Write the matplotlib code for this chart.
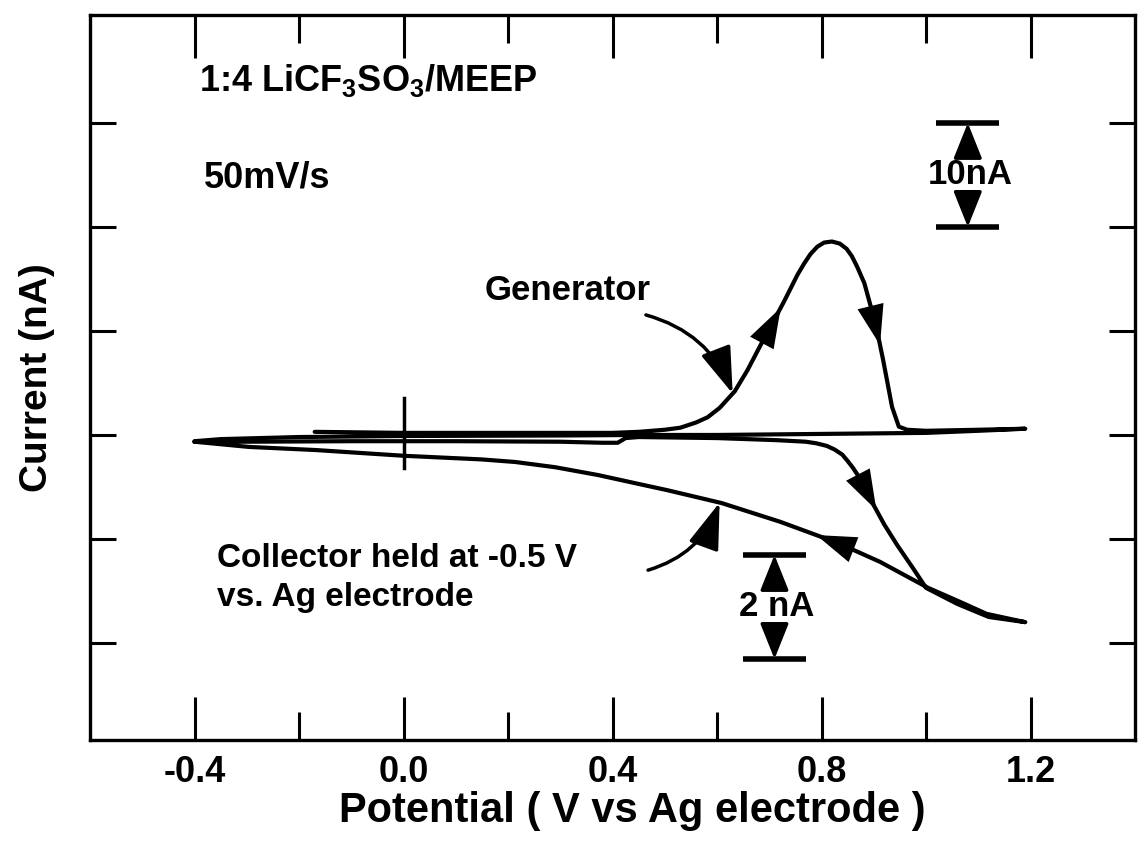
import numpy as np
import matplotlib.pyplot as plt

# ==========================================
# Data
# ==========================================
# generator CV: forward sweep from -0.17 V to 1.19 V, then back to -0.40 V
POT_GEN = [-0.17, 0.0, 0.2, 0.4, 0.45, 0.50, 0.53, 0.56, 0.582, 0.605,
           0.634, 0.658, 0.683, 0.71, 0.729, 0.74, 0.754, 0.767, 0.779, 0.792,
           0.805, 0.82, 0.835, 0.848, 0.858, 0.868, 0.882, 0.894, 0.906, 0.918,
           0.935, 0.948, 0.964, 1.0, 1.1, 1.19,
           1.1, 1.0, 0.8, 0.6, 0.45, 0.3, 0.0, -0.2, -0.35, -0.40]
CUR_GEN = [0.3, 0.2, 0.2, 0.2, 0.3, 0.5, 0.7, 1.2, 1.7, 2.6,
           4.2, 6.2, 8.6, 11.1, 12.9, 14.0, 15.4, 16.5, 17.4, 18.1,
           18.5, 18.6, 18.4, 17.9, 17.2, 16.2, 14.6, 12.4, 10.1, 7.2,
           2.7, 0.8, 0.5, 0.4, 0.5, 0.6,
           0.4, 0.2, 0.1, 0.0, 0.0, -0.05, -0.1, -0.2, -0.4, -0.6]   # nA

# collector current (collector held at -0.5 V), loop starting at -0.40 V
POT_COL = [-0.40, -0.3, -0.1, 0.1, 0.3, 0.38, 0.41, 0.425, 0.45, 0.6,
           0.714, 0.77, 0.79, 0.81, 0.825, 0.84, 0.85, 0.86, 0.87, 0.88,
           0.895, 0.92, 0.945, 0.975, 1.0, 1.06, 1.12, 1.19,
           1.116, 1.063, 1.004, 0.912, 0.832, 0.721, 0.609, 0.504, 0.44, 0.372,
           0.29, 0.214, 0.149, 0.0, -0.168, -0.296, -0.40]
CUR_COL = [-0.13, -0.13, -0.12, -0.12, -0.13, -0.15, -0.15, -0.06, -0.04, -0.06,
           -0.10, -0.13, -0.16, -0.21, -0.28, -0.38, -0.50, -0.63, -0.78, -0.96,
           -1.26, -1.72, -2.12, -2.56, -2.94, -3.25, -3.50, -3.60,
           -3.44, -3.20, -2.94, -2.44, -2.08, -1.67, -1.31, -1.06, -0.92, -0.77,
           -0.62, -0.52, -0.47, -0.40, -0.29, -0.23, -0.13]   # nA

GEN_NA_PER_DIV = 10.0   # scale bar "10nA"
COL_NA_PER_DIV = 2.0    # scale bar "2 nA"

X_MAJOR = [-0.4, 0.0, 0.4, 0.8, 1.2]
X_MAJOR_LABELS = ['-0.4', '0.0', '0.4', '0.8', '1.2']
X_MINOR = [-0.2, 0.2, 0.6, 1.0]
Y_TICKS = [-2, -1, 0, 1, 2, 3]          # in divisions

# ==========================================
# Style
# ==========================================
plt.rcParams['font.family'] = ['Liberation Sans', 'DejaVu Sans']
plt.rcParams['font.weight'] = 'bold'
plt.rcParams['axes.labelweight'] = 'bold'
plt.rcParams['mathtext.fontset'] = 'custom'
plt.rcParams['mathtext.rm'] = 'Liberation Sans:bold'
plt.rcParams['mathtext.default'] = 'rm'

LW = 3.0
HEAD = '-|>,head_length=1.2,head_width=0.4'

fig = plt.figure(figsize=(11.4, 8.44), dpi=100)
ax = fig.add_axes([90 / 1140, 104 / 844, 1045 / 1140, 725 / 844])

gen_x = np.array(POT_GEN)
gen_y = np.array(CUR_GEN) / GEN_NA_PER_DIV
col_x = np.array(POT_COL)
col_y = np.array(CUR_COL) / COL_NA_PER_DIV

ax.plot(gen_x, gen_y, color='k', lw=LW, solid_capstyle='round', solid_joinstyle='round')
ax.plot(col_x, col_y, color='k', lw=LW, solid_capstyle='round', solid_joinstyle='round')

# small cross marking the origin
ax.plot([0, 0], [-0.32, 0.36], color='k', lw=2.5)

# split each loop into its sweep branches
g_turn = int(np.argmax(gen_x))
c_turn = int(np.argmax(col_x))
g_fx, g_fy = gen_x[:g_turn + 1], gen_y[:g_turn + 1]
c_fx, c_fy = col_x[:c_turn + 1], col_y[:c_turn + 1]
c_bx, c_by = col_x[c_turn:], col_y[c_turn:]
rise = (g_fx > 0.55) & (g_fx <= 0.82)
fall = (g_fx >= 0.82) & (g_fx < 1.0)
c_fwd = (c_fx > 0.45)


def on_curve(xs, ys, x):
    order = np.argsort(xs)
    return float(np.interp(x, xs[order], ys[order]))


def curve_arrow(xs, ys, x_tip, step):
    """Filled arrowhead sitting on a branch; step>0 means travel toward +x."""
    ax.annotate('', xy=(x_tip, on_curve(xs, ys, x_tip)),
                xytext=(x_tip - step, on_curve(xs, ys, x_tip - step)),
                arrowprops=dict(arrowstyle=HEAD, mutation_scale=24, color='k', lw=0,
                                shrinkA=0, shrinkB=0))


curve_arrow(g_fx[rise], g_fy[rise], 0.722, 0.02)
curve_arrow(g_fx[fall], g_fy[fall], 0.912, 0.02)
curve_arrow(c_fx[c_fwd], c_fy[c_fwd], 0.905, 0.025)
curve_arrow(c_bx, c_by, 0.79, -0.06)

# labels
ax.text(-0.391, 3.41, '1:4 LiCF$_3$SO$_3$/MEEP', fontsize=26, ha='left', va='center')
ax.text(-0.382, 2.47, '50mV/s', fontsize=26, ha='left', va='center')
ax.text(0.315, 1.39, 'Generator', fontsize=25, ha='center', va='center')
ax.text(-0.357, -1.375, 'Collector held at -0.5 V\nvs. Ag electrode', fontsize=24,
        ha='left', va='center', linespacing=1.3)

ax.annotate('', xy=(0.63, on_curve(g_fx[rise], g_fy[rise], 0.63)), xytext=(0.464, 1.154),
            arrowprops=dict(arrowstyle=HEAD, mutation_scale=24,
                            connectionstyle='arc3,rad=-0.25',
                            color='k', lw=2.5, shrinkA=0, shrinkB=0))
ax.annotate('', xy=(0.605, on_curve(c_bx, c_by, 0.605)), xytext=(0.468, -1.30),
            arrowprops=dict(arrowstyle=HEAD, mutation_scale=24,
                            connectionstyle='arc3,rad=0.25',
                            color='k', lw=2.5, shrinkA=0, shrinkB=0))


def scale_bar(xc, y_top, label, fs, half=0.06):
    y_bot = y_top - 1.0
    ax.hlines([y_top, y_bot], xc - half, xc + half, color='k', lw=4)
    mid = 0.5 * (y_top + y_bot)
    for end in (y_top, y_bot):
        ax.annotate('', xy=(xc, end), xytext=(xc, mid + 0.27 * np.sign(end - mid)),
                    arrowprops=dict(arrowstyle='-|>,head_length=1.0,head_width=0.4',
                                    mutation_scale=22, color='k', lw=2.5,
                                    shrinkA=0, shrinkB=0))
    ax.text(xc + 0.005, mid, label, fontsize=fs, ha='center', va='center')


scale_bar(1.08, 30 / GEN_NA_PER_DIV, '10nA', 25)
scale_bar(0.71, -1.154, '2 nA', 25)

# axes
ax.set_xlim(-0.6, 1.4)
ax.set_ylim(-2.933, 4.038)
ax.set_xticks(X_MAJOR)
ax.set_xticklabels(X_MAJOR_LABELS)
ax.set_xticks(X_MINOR, minor=True)
ax.set_yticks(Y_TICKS)
ax.set_yticklabels([])
ax.tick_params(axis='x', which='major', direction='in', top=True, length=31,
               width=2.2, labelsize=26, pad=11)
ax.tick_params(axis='x', which='minor', direction='in', top=True, length=20, width=2.2)
ax.tick_params(axis='y', which='major', direction='in', left=True, right=True,
               length=19, width=2.2)
for s in ax.spines.values():
    s.set_linewidth(2.4)

ax.set_xlabel('Potential ( V vs Ag electrode )', fontsize=30)
ax.xaxis.set_label_coords(0.519, -0.071)
ax.set_ylabel('Current (nA)', fontsize=28, labelpad=22)

fig.savefig('out.png', dpi=100)
